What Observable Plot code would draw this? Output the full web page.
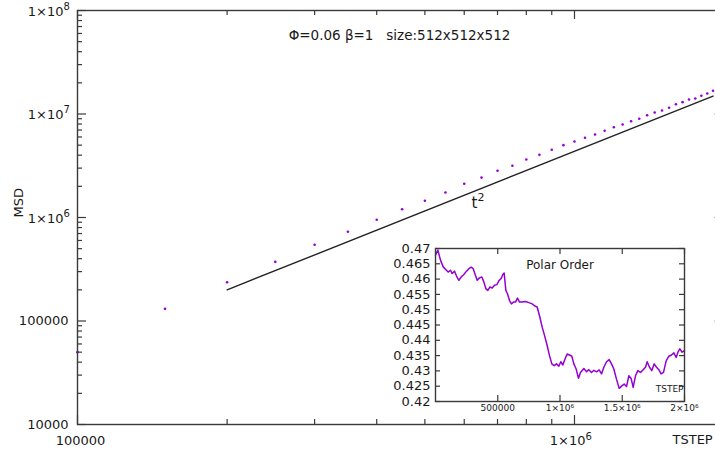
<!DOCTYPE html>
<html>
<head>
<meta charset="utf-8">
<script src="https://cdn.jsdelivr.net/npm/d3@7"></script>
<script src="https://cdn.jsdelivr.net/npm/@observablehq/plot@0.6"></script>
<style>
  html, body { margin: 0; padding: 0; overflow: hidden; background: white; }
  #wrap { position: relative; width: 715px; height: 459px; }
  #inset { position: absolute; left: 380px; top: 240px; }
  svg { overflow: hidden; }
</style>
</head>
<body>
<div id="wrap"><div id="main"></div><div id="inset"></div></div>
<script>
// ---------- main chart data (MSD vs TSTEP) ----------
const msdT = [100000, 150000, 200000, 250000, 300000, 350000, 400000, 450000, 500000, 550000,
  600000, 650000, 700000, 750000, 800000, 850000, 900000, 950000, 1000000, 1050000,
  1100000, 1150000, 1200000, 1250000, 1300000, 1350000, 1400000, 1450000, 1500000, 1550000,
  1600000, 1650000, 1700000, 1750000, 1800000, 1850000, 1900000];
const msdV = [50000, 131000, 237000, 373000, 545000, 728000, 950000, 1200000, 1450000, 1745000,
  2120000, 2430000, 2830000, 3160000, 3630000, 4030000, 4510000, 5000000, 5420000, 5890000,
  6340000, 6880000, 7450000, 7920000, 8520000, 8990000, 9730000, 10330000, 10810000, 11480000,
  12440000, 13010000, 13810000, 14130000, 15000000, 15780000, 16750000];
const fitT = [200000, 1900000];
const fitV = [200000, 14900000];
const fitBase = "t";
const fitExp = "2";
const fitLabelT = [638000];
const fitLabelV = [1365000];
const titleText = "Φ=0.06 β=1   size:512x512x512";
const xLabel = "TSTEP";
const yLabel = "MSD";
const xMajor = [100000, 1000000];
const xTickBase = ["100000", "1×10"];
const xTickExp = ["", "6"];
const xMinor = [200000, 300000, 400000, 500000, 600000, 700000, 800000, 900000, 2000000];
const yMajor = [10000, 100000, 1000000, 10000000, 100000000];
const yTickBase = ["10000", "100000", "1×10", "1×10", "1×10"];
const yTickExp = ["", "", "6", "7", "8"];
const yMinor = [20000, 30000, 40000, 50000, 60000, 70000, 80000, 90000,
  200000, 300000, 400000, 500000, 600000, 700000, 800000, 900000,
  2000000, 3000000, 4000000, 5000000, 6000000, 7000000, 8000000, 9000000,
  20000000, 30000000, 40000000, 50000000, 60000000, 70000000, 80000000, 90000000];

// ---------- inset data (Polar Order vs TSTEP) ----------
const polarT = [0, 18700, 40200, 61600, 80300, 101700, 120500, 133900, 152600, 168700,
  187400, 206200, 227600, 249000, 267700, 286500, 302500, 318600, 334700, 353400,
  372200, 388200, 404300, 420400, 436400, 455200, 473900, 492700, 511400, 527500,
  540800, 551600, 565000, 578300, 594400, 610400, 626500, 642600, 658700, 674700,
  696100, 722900, 749700, 776400, 797900, 816600, 838000, 856800, 875500, 896900,
  915700, 934400, 953200, 971900, 990600, 1006700, 1022800, 1038800, 1057600, 1076300,
  1095100, 1111100, 1129900, 1148600, 1164700, 1191400, 1212900, 1231600, 1253000, 1271800,
  1293200, 1314600, 1333300, 1352100, 1373500, 1394900, 1413700, 1432400, 1453800, 1475300,
  1496700, 1515400, 1534200, 1552900, 1571600, 1587700, 1606400, 1625200, 1646600, 1668000,
  1686800, 1700200, 1718900, 1737600, 1756400, 1775100, 1793900, 1812000, 1831400, 1852800,
  1874200, 1895600, 1914300, 1933100, 1949100, 1962500, 1981300, 2000000];
const polarV = [0.4678, 0.4695, 0.4662, 0.4640, 0.4632, 0.4623, 0.4629, 0.4618, 0.4626, 0.4610,
  0.4596, 0.4607, 0.4615, 0.4626, 0.4634, 0.4639, 0.4634, 0.4615, 0.4596, 0.4604,
  0.4607, 0.4591, 0.4569, 0.4563, 0.4574, 0.4571, 0.4580, 0.4582, 0.4596, 0.4602,
  0.4615, 0.4620, 0.4563, 0.4552, 0.4530, 0.4519, 0.4525, 0.4525, 0.4538, 0.4525,
  0.4525, 0.4527, 0.4523, 0.4519, 0.4512, 0.4509, 0.4476, 0.4443, 0.4416, 0.4383,
  0.4350, 0.4323, 0.4317, 0.4323, 0.4315, 0.4330, 0.4319, 0.4337, 0.4355, 0.4352,
  0.4348, 0.4323, 0.4306, 0.4276, 0.4295, 0.4308, 0.4297, 0.4304, 0.4295, 0.4302,
  0.4297, 0.4303, 0.4290, 0.4312, 0.4330, 0.4337, 0.4323, 0.4306, 0.4273, 0.4243,
  0.4251, 0.4257, 0.4249, 0.4284, 0.4275, 0.4246, 0.4284, 0.4301, 0.4295, 0.4304,
  0.4312, 0.4330, 0.4312, 0.4301, 0.4323, 0.4312, 0.4304, 0.4290, 0.4295, 0.4333,
  0.4348, 0.4352, 0.4359, 0.4344, 0.4363, 0.4372, 0.4361, 0.4366];
const insetTitle = "Polar Order";
const insetXLabel = "TSTEP";
const insetXTicks = [500000, 1000000, 1500000, 2000000];
const insetXTickLabels = ["500000", "1×10⁶", "1.5×10⁶", "2×10⁶"];
const insetYTicks = [0.42, 0.425, 0.43, 0.435, 0.44, 0.445, 0.45, 0.455, 0.46, 0.465, 0.47];
const insetYTickLabels = ["0.42", "0.425", "0.43", "0.435", "0.44", "0.445", "0.45", "0.455", "0.46", "0.465", "0.47"];

const PURPLE = "#9400d3";
const INK = "#1a1a1a";
const AXIS = "#3a3a3a";

const msd = msdT.map((t, i) => ({t, v: msdV[i]}));
const fit = fitT.map((t, i) => ({t, v: fitV[i]}));
const polar = polarT.map((t, i) => ({t, v: polarV[i]}));
const yTicks = yMajor.map((v, i) => ({v, base: yTickBase[i], exp: yTickExp[i]}));
const xTicks = xMajor.map((v, i) => ({v, base: xTickBase[i], exp: xTickExp[i]}));
const insetXT = insetXTicks.map((v, i) => ({v, label: insetXTickLabels[i]}));
const insetYT = insetYTicks.map((v, i) => ({v, label: insetYTickLabels[i]}));

// main frame size in pixels
const ML = 77, MR = -8.6, MT = 10, MB = 35, W = 715, H = 459;
const FW = W - ML - MR, FH = H - MT - MB;

const main = Plot.plot({
  width: W, height: H,
  marginLeft: ML, marginRight: MR, marginTop: MT, marginBottom: MB,
  style: {fontFamily: "DejaVu Sans, sans-serif", fontSize: "13px", color: INK, background: "white"},
  x: {type: "log", domain: [100000, 2000000], axis: null},
  y: {type: "log", domain: [10000, 100000000], axis: null},
  marks: [
    // inward ticks, mirrored on all four sides
    Plot.tickY(yMajor, {y: d => d, insetRight: FW - 9, stroke: AXIS, strokeWidth: 1.2}),
    Plot.tickY(yMinor, {y: d => d, insetRight: FW - 5, stroke: AXIS, strokeWidth: 1.2}),
    Plot.tickY(yMajor, {y: d => d, insetLeft: FW - 9, stroke: AXIS, strokeWidth: 1.2}),
    Plot.tickY(yMinor, {y: d => d, insetLeft: FW - 5, stroke: AXIS, strokeWidth: 1.2}),
    Plot.tickX(xMajor, {x: d => d, insetTop: FH - 9, stroke: AXIS, strokeWidth: 1.2}),
    Plot.tickX(xMinor, {x: d => d, insetTop: FH - 5, stroke: AXIS, strokeWidth: 1.2}),
    Plot.tickX(xMajor, {x: d => d, insetBottom: FH - 9, stroke: AXIS, strokeWidth: 1.2}),
    Plot.tickX(xMinor, {x: d => d, insetBottom: FH - 5, stroke: AXIS, strokeWidth: 1.2}),
    // y tick labels
    Plot.text(yTicks.filter(d => !d.exp), {y: "v", text: "base", frameAnchor: "left", dx: -9, textAnchor: "end", fill: INK}),
    Plot.text(yTicks.filter(d => d.exp), {y: "v", text: "base", frameAnchor: "left", dx: -14, dy: 1, textAnchor: "end", fill: INK}),
    Plot.text(yTicks.filter(d => d.exp), {y: "v", text: "exp", frameAnchor: "left", dx: -14, dy: -4, textAnchor: "start", fontSize: 10, fill: INK}),
    // x tick labels
    Plot.text(xTicks.filter(d => !d.exp), {x: "v", text: "base", frameAnchor: "bottom", dx: 3, dy: 20, textAnchor: "middle", fill: INK}),
    Plot.text(xTicks.filter(d => d.exp), {x: "v", text: "base", frameAnchor: "bottom", dx: 11, dy: 20, textAnchor: "end", fill: INK}),
    Plot.text(xTicks.filter(d => d.exp), {x: "v", text: "exp", frameAnchor: "bottom", dx: 11, dy: 15, textAnchor: "start", fontSize: 10, fill: INK}),
    Plot.line(fit, {x: "t", y: "v", stroke: "#222", strokeWidth: 1.4}),
    Plot.dot(msd, {x: "t", y: "v", r: 1.3, fill: PURPLE, stroke: null}),
    Plot.frame({stroke: AXIS, strokeWidth: 1.4}),
    Plot.text([fitBase], {x: fitLabelT, y: fitLabelV, text: d => d, textAnchor: "end", fontSize: 15, fill: INK}),
    Plot.text([fitExp], {x: fitLabelT, y: fitLabelV, text: d => d, textAnchor: "start", dy: -6, fontSize: 11, fill: INK}),
    Plot.text([titleText], {frameAnchor: "top", dx: -1.3, dy: 20, text: d => d, fontSize: 13.5, fill: INK}),
    Plot.text([yLabel], {frameAnchor: "left", dx: -59, rotate: -90, text: d => d, fontSize: 13, fill: INK}),
    Plot.text([xLabel], {frameAnchor: "bottom-right", dx: -51.6, dy: 19, textAnchor: "start", text: d => d, fontSize: 13, fill: INK})
  ]
});
document.getElementById("main").append(main);

// inset frame: left 435, right 684, top 248, bottom 401 in page pixels
const IW = 325, IH = 178, IML = 55, IMR = 21, IMT = 8, IMB = 17;
const IFW = IW - IML - IMR, IFH = IH - IMT - IMB;
const inset = Plot.plot({
  width: IW, height: IH,
  marginLeft: IML, marginRight: IMR, marginTop: IMT, marginBottom: IMB,
  style: {fontFamily: "DejaVu Sans, sans-serif", fontSize: "13px", color: INK, background: "transparent"},
  x: {domain: [0, 2000000], axis: null},
  y: {domain: [0.42, 0.47], axis: null},
  marks: [
    Plot.tickY(insetYTicks, {y: d => d, insetRight: IFW - 5, stroke: AXIS, strokeWidth: 1.2}),
    Plot.tickY(insetYTicks, {y: d => d, insetLeft: IFW - 5, stroke: AXIS, strokeWidth: 1.2}),
    Plot.tickX(insetXTicks, {x: d => d, insetTop: IFH - 6, stroke: AXIS, strokeWidth: 1.2}),
    Plot.tickX(insetXTicks, {x: d => d, insetBottom: IFH - 6, stroke: AXIS, strokeWidth: 1.2}),
    Plot.text(insetYT, {y: "v", text: "label", frameAnchor: "left", dx: -5, textAnchor: "end", fontSize: 13, fill: INK}),
    Plot.text(insetXT, {x: "v", text: "label", frameAnchor: "bottom", dy: 9, textAnchor: "middle", fontSize: 9, fill: INK}),
    Plot.line(polar, {x: "t", y: "v", stroke: PURPLE, strokeWidth: 1.5}),
    Plot.frame({stroke: AXIS, strokeWidth: 1.4}),
    Plot.text([insetTitle], {frameAnchor: "top", dy: 12, text: d => d, fontSize: 12, fill: INK}),
    Plot.text([insetXLabel], {frameAnchor: "bottom-right", dx: -1, dy: -10, textAnchor: "end", text: d => d, fontSize: 9, fill: INK})
  ]
});
document.getElementById("inset").append(inset);
</script>
</body>
</html>
